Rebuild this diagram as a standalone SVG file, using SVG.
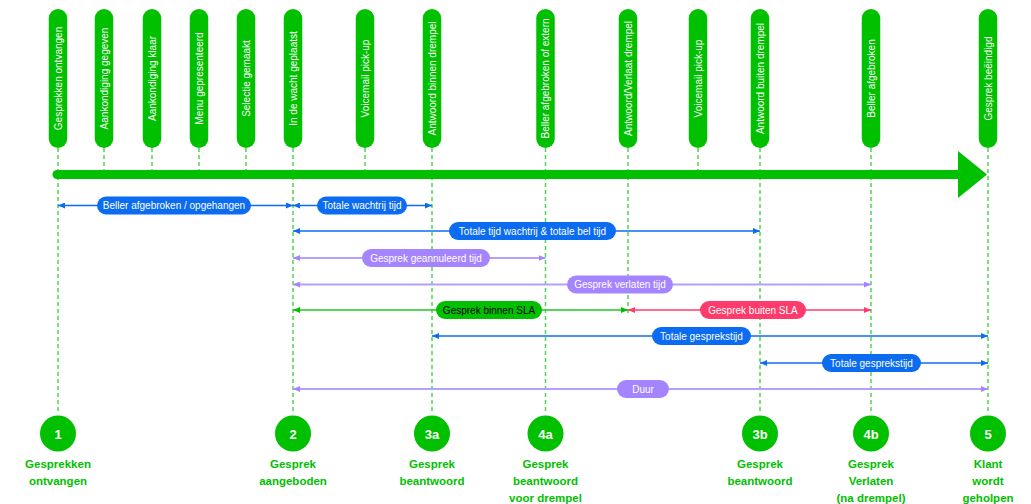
<svg xmlns="http://www.w3.org/2000/svg" width="1031" height="504" viewBox="0 0 1031 504">
<style>
.ev rect{fill:#00c000}
.ev text{fill:#fff;font-family:"Liberation Sans",Arial,sans-serif;font-size:10px;text-anchor:middle}
.dash{stroke:#4fd64f;stroke-width:1.5;stroke-dasharray:4 3;fill:none}
.lbl{font-family:"Liberation Sans",Arial,sans-serif;font-size:10px;text-anchor:middle;fill:#fff}
.blue{stroke:#0b6cf2;stroke-width:1.5;fill:none}
.purple{stroke:#b3a0ff;stroke-width:2;fill:none}
.green{stroke:#22c522;stroke-width:1.5;fill:none}
.red{stroke:#ff3b6b;stroke-width:1.5;fill:none}
.pb{fill:#0b6cf2}
.pp{fill:#a585ff}
.pg{fill:#00c000}
.pr{fill:#ff3b6b}
.ms circle{fill:#00c000}
.ms .num{fill:#fff;font-family:"Liberation Sans",Arial,sans-serif;font-size:13px;font-weight:bold;text-anchor:middle}
.ms .cap{fill:#00c000;font-family:"Liberation Sans",Arial,sans-serif;font-size:11.5px;font-weight:bold;text-anchor:middle}
</style>
<defs>
<marker id="mb" markerUnits="userSpaceOnUse" markerWidth="7" markerHeight="6" refX="7" refY="3" orient="auto-start-reverse"><path d="M0,0 L7,3 L0,6 z" fill="#0b6cf2"/></marker>
<marker id="mp" markerUnits="userSpaceOnUse" markerWidth="7" markerHeight="6" refX="7" refY="3" orient="auto-start-reverse"><path d="M0,0 L7,3 L0,6 z" fill="#a585ff"/></marker>
<marker id="mg" markerUnits="userSpaceOnUse" markerWidth="7" markerHeight="6" refX="7" refY="3" orient="auto-start-reverse"><path d="M0,0 L7,3 L0,6 z" fill="#00c000"/></marker>
<marker id="mr" markerUnits="userSpaceOnUse" markerWidth="7" markerHeight="6" refX="7" refY="3" orient="auto-start-reverse"><path d="M0,0 L7,3 L0,6 z" fill="#ff3b6b"/></marker>
</defs>
<rect width="1031" height="504" fill="#fff"/>

<g id="connectors">
<g id="dashes">
<line class="dash" x1="58" y1="148" x2="58" y2="414"/>
<line class="dash" x1="104" y1="148" x2="104" y2="172"/>
<line class="dash" x1="152" y1="148" x2="152" y2="172"/>
<line class="dash" x1="199" y1="148" x2="199" y2="172"/>
<line class="dash" x1="246" y1="148" x2="246" y2="172"/>
<line class="dash" x1="293" y1="148" x2="293" y2="414"/>
<line class="dash" x1="365" y1="148" x2="365" y2="172"/>
<line class="dash" x1="432" y1="148" x2="432" y2="414"/>
<line class="dash" x1="545.5" y1="148" x2="545.5" y2="414"/>
<line class="dash" x1="628" y1="148" x2="628" y2="315"/>
<line class="dash" x1="698" y1="148" x2="698" y2="172"/>
<line class="dash" x1="760" y1="148" x2="760" y2="414"/>
<line class="dash" x1="871" y1="148" x2="871" y2="414"/>
<line class="dash" x1="988" y1="148" x2="988" y2="414"/>
</g>
<g id="timeline">
<path d="M57,170 H959 V179 H57 A4.5,4.5 0 0 1 57,170 z" fill="#00c000"/>
<polygon points="958,151 987,174.5 958,198" fill="#00c000"/>
</g>
<g id="spans">
<line class="blue" x1="58" y1="205.5" x2="293" y2="205.5" marker-start="url(#mb)" marker-end="url(#mb)"/>
<rect class="pb" x="97" y="196.5" width="154" height="18" rx="9"/>
<text class="lbl" x="174" y="209">Beller afgebroken / opgehangen</text>

<line class="blue" x1="293" y1="205.5" x2="432" y2="205.5" marker-start="url(#mb)" marker-end="url(#mb)"/>
<rect class="pb" x="317" y="196.5" width="90" height="18" rx="9"/>
<text class="lbl" x="362" y="209">Totale wachtrij tijd</text>

<line class="blue" x1="293" y1="231" x2="760" y2="231" marker-start="url(#mb)" marker-end="url(#mb)"/>
<rect class="pb" x="449" y="222" width="167" height="18" rx="9"/>
<text class="lbl" x="532.5" y="234.5">Totale tijd wachtrij &amp; totale bel tijd</text>

<line class="purple" x1="293" y1="258" x2="545.5" y2="258" marker-start="url(#mp)" marker-end="url(#mp)"/>
<rect class="pp" x="362" y="249" width="128" height="18" rx="9"/>
<text class="lbl" x="426" y="261.5">Gesprek geannuleerd tijd</text>

<line class="purple" x1="293" y1="284.5" x2="871" y2="284.5" marker-start="url(#mp)" marker-end="url(#mp)"/>
<rect class="pp" x="567" y="275.5" width="106" height="18" rx="9"/>
<text class="lbl" x="620" y="288">Gesprek verlaten tijd</text>

<line class="green" x1="293" y1="310" x2="628" y2="310" marker-start="url(#mg)" marker-end="url(#mg)"/>
<rect class="pg" x="436" y="301" width="106" height="18" rx="9"/>
<text class="lbl" x="489" y="313.5" style="fill:#000">Gesprek binnen SLA</text>

<line class="red" x1="628" y1="310" x2="871" y2="310" marker-start="url(#mr)" marker-end="url(#mr)"/>
<rect class="pr" x="700" y="301" width="106" height="18" rx="9"/>
<text class="lbl" x="753" y="313.5">Gesprek buiten SLA</text>

<line class="blue" x1="432" y1="336" x2="988" y2="336" marker-start="url(#mb)" marker-end="url(#mb)"/>
<rect class="pb" x="652" y="327" width="99" height="18" rx="9"/>
<text class="lbl" x="701.5" y="339.5">Totale gesprekstijd</text>

<line class="blue" x1="760" y1="363" x2="988" y2="363" marker-start="url(#mb)" marker-end="url(#mb)"/>
<rect class="pb" x="822" y="354" width="99" height="18" rx="9"/>
<text class="lbl" x="871.5" y="366.5">Totale gesprekstijd</text>

<line class="purple" x1="293" y1="389" x2="988" y2="389" marker-start="url(#mp)" marker-end="url(#mp)"/>
<rect class="pp" x="617" y="380" width="52" height="18" rx="9"/>
<text class="lbl" x="643" y="392.5">Duur</text>
</g>
</g>

<g id="e1" class="ev"><rect x="48.75" y="9" width="18.5" height="139" rx="9.25"/><text transform="translate(58,78.5) rotate(-90)" y="3.5">Gesprekken ontvangen</text></g>
<g id="e2" class="ev"><rect x="94.75" y="9" width="18.5" height="139" rx="9.25"/><text transform="translate(104,78.5) rotate(-90)" y="3.5">Aankondiging gegeven</text></g>
<g id="e3" class="ev"><rect x="142.75" y="9" width="18.5" height="139" rx="9.25"/><text transform="translate(152,78.5) rotate(-90)" y="3.5">Aankondiging klaar</text></g>
<g id="e4" class="ev"><rect x="189.75" y="9" width="18.5" height="139" rx="9.25"/><text transform="translate(199,78.5) rotate(-90)" y="3.5">Menu gepresenteerd</text></g>
<g id="e5" class="ev"><rect x="236.75" y="9" width="18.5" height="139" rx="9.25"/><text transform="translate(246,78.5) rotate(-90)" y="3.5">Selectie gemaakt</text></g>
<g id="e6" class="ev"><rect x="283.75" y="9" width="18.5" height="139" rx="9.25"/><text transform="translate(293,78.5) rotate(-90)" y="3.5">In de wacht geplaatst</text></g>
<g id="e7" class="ev"><rect x="355.75" y="9" width="18.5" height="139" rx="9.25"/><text transform="translate(365,78.5) rotate(-90)" y="3.5">Voicemail pick-up</text></g>
<g id="e8" class="ev"><rect x="422.75" y="9" width="18.5" height="139" rx="9.25"/><text transform="translate(432,78.5) rotate(-90)" y="3.5">Antwoord binnen drempel</text></g>
<g id="e9" class="ev"><rect x="536.25" y="9" width="18.5" height="139" rx="9.25"/><text transform="translate(545.5,78.5) rotate(-90)" y="3.5">Beller afgebroken of extern</text></g>
<g id="e10" class="ev"><rect x="618.75" y="9" width="18.5" height="139" rx="9.25"/><text transform="translate(628,78.5) rotate(-90)" y="3.5">Antwoord/Verlaat drempel</text></g>
<g id="e11" class="ev"><rect x="688.75" y="9" width="18.5" height="139" rx="9.25"/><text transform="translate(698,78.5) rotate(-90)" y="3.5">Voicemail pick-up</text></g>
<g id="e12" class="ev"><rect x="750.75" y="9" width="18.5" height="139" rx="9.25"/><text transform="translate(760,78.5) rotate(-90)" y="3.5">Antwoord buiten drempel</text></g>
<g id="e13" class="ev"><rect x="861.75" y="9" width="18.5" height="139" rx="9.25"/><text transform="translate(871,78.5) rotate(-90)" y="3.5">Beller afgebroken</text></g>
<g id="e14" class="ev"><rect x="978.75" y="9" width="18.5" height="139" rx="9.25"/><text transform="translate(988,78.5) rotate(-90)" y="3.5">Gesprek beëindigd</text></g>

<g id="m1" class="ms"><circle cx="58" cy="433.5" r="18"/><text class="num" x="58" y="438.5">1</text><text class="cap" x="58" y="467.5">Gesprekken</text><text class="cap" x="58" y="484.5">ontvangen</text></g>
<g id="m2" class="ms"><circle cx="293" cy="433.5" r="18"/><text class="num" x="293" y="438.5">2</text><text class="cap" x="293" y="467.5">Gesprek</text><text class="cap" x="293" y="484.5">aangeboden</text></g>
<g id="m3a" class="ms"><circle cx="432" cy="433.5" r="18"/><text class="num" x="432" y="438.5">3a</text><text class="cap" x="432" y="467.5">Gesprek</text><text class="cap" x="432" y="484.5">beantwoord</text></g>
<g id="m4a" class="ms"><circle cx="545.5" cy="433.5" r="18"/><text class="num" x="545.5" y="438.5">4a</text><text class="cap" x="545.5" y="467.5">Gesprek</text><text class="cap" x="545.5" y="484.5">beantwoord</text><text class="cap" x="545.5" y="501.5">voor drempel</text></g>
<g id="m3b" class="ms"><circle cx="760" cy="433.5" r="18"/><text class="num" x="760" y="438.5">3b</text><text class="cap" x="760" y="467.5">Gesprek</text><text class="cap" x="760" y="484.5">beantwoord</text></g>
<g id="m4b" class="ms"><circle cx="871" cy="433.5" r="18"/><text class="num" x="871" y="438.5">4b</text><text class="cap" x="871" y="467.5">Gesprek</text><text class="cap" x="871" y="484.5">Verlaten</text><text class="cap" x="871" y="501.5">(na drempel)</text></g>
<g id="m5" class="ms"><circle cx="988" cy="433.5" r="18"/><text class="num" x="988" y="438.5">5</text><text class="cap" x="988" y="467.5">Klant</text><text class="cap" x="988" y="484.5">wordt</text><text class="cap" x="988" y="501.5">geholpen</text></g>
</svg>
